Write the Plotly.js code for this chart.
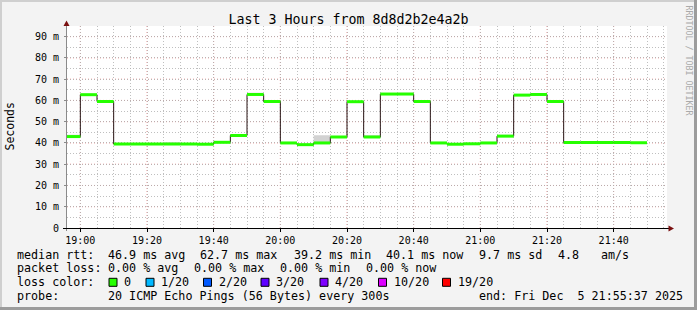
<!DOCTYPE html>
<html><head><meta charset="utf-8">
<script src="https://cdn.plot.ly/plotly-3.0.1.min.js"></script>
<style>html,body{margin:0;padding:0;background:#f3f3f3;} #chart{width:697px;height:310px;}</style>
</head><body><div id="chart"></div>
<script>
// ---------------- data ----------------
const day = '2025-12-05';
const stepTimes = ['18:55','19:00','19:05','19:10','19:15','19:20','19:25','19:30','19:35','19:40',
  '19:45','19:50','19:55','20:00','20:05','20:10','20:15','20:20','20:25','20:30',
  '20:35','20:40','20:45','20:50','20:55','21:00','21:05','21:10','21:15','21:20',
  '21:25','21:30','21:35','21:40','21:45'];
const medianRtt = [43.0,62.7,59.5,39.5,39.5,39.5,39.5,39.5,39.4,40.3,
  43.5,62.8,59.5,40.0,39.2,40.0,42.8,59.4,42.8,63.0,
  63.0,59.5,40.0,39.4,39.6,40.0,43.2,62.5,62.8,59.5,
  40.2,40.2,40.2,40.2,40.1];
const smokeLo = [42.8,62.5,59.3,39.3,39.3,39.3,39.3,39.3,39.2,40.1,
  43.3,62.6,59.3,39.8,38.6,39.8,42.6,59.2,42.6,62.8,
  62.8,59.3,39.8,39.2,39.4,39.8,43.0,62.3,62.6,59.3,
  39.6,40.0,40.0,39.6,39.9];
const smokeHi = [43.9,62.9,59.7,39.7,39.7,39.7,40.3,39.7,39.6,40.5,
  44.0,63.6,59.7,40.2,39.4,43.6,43.0,59.6,43.6,63.2,
  63.6,59.7,40.2,39.6,39.8,40.2,43.8,62.9,63.0,59.7,
  40.4,40.4,40.4,40.4,40.3];
const yTickVals = [0,10,20,30,40,50,60,70,80,90];
const yTickText = ['0','10 m','20 m','30 m','40 m','50 m','60 m','70 m','80 m','90 m'];
const xMajorTimes = ['19:00','19:20','19:40','20:00','20:20','20:40','21:00','21:20','21:40'];
const rttLegend = ['median rtt:','46.9 ms avg','62.7 ms max','39.2 ms min','40.1 ms now','9.7 ms sd','4.8','am/s'];
const lossLegend = ['packet loss:','0.00 % avg','0.00 % max','0.00 % min','0.00 % now'];
const lossLabels = ['0','1/20','2/20','3/20','4/20','10/20','19/20'];
const lossColors = ['#26ff00','#00b8ff','#0059ff','#5e00ff','#7e00ff','#dd00ff','#ff0000'];
const probeLegend = ['probe:','20 ICMP Echo Pings (56 Bytes) every 300s','end: Fri Dec  5 21:55:37 2025'];
const chartTitle = 'Last 3 Hours from 8d8d2b2e4a2b';

// ---------------- layout helpers ----------------
const L = 67, R = 30, T = 26, B = 82, W = 697, H = 310;
const PW = W - L - R, PH = H - T - B;
const px = x => (x - L) / PW;
const py = y => (H - B - y) / PH;
function addMin(hm, m) {
  let [h, mm] = hm.split(':').map(Number);
  let tot = h * 60 + mm + m;
  return String(Math.floor(tot / 60)).padStart(2, '0') + ':' + String(tot % 60).padStart(2, '0');
}
const ts = hm => day + ' ' + hm;
const xStep = stepTimes.map(ts).concat([ts(addMin(stepTimes[stepTimes.length - 1], 5))]);
const ext = a => a.concat([a[a.length - 1]]);
const xRange = [ts('18:56:00'), ts('21:56:00')];
const yRange = [0, 95];

// green horizontal segments
const gx = [], gy = [];
medianRtt.forEach((v, i) => { gx.push(xStep[i], xStep[i + 1], null); gy.push(v, v, null); });

const mono = 'DejaVu Sans Mono, monospace';
const traces = [
  {x: [xStep[1]], y: [null], xaxis: 'x2', yaxis: 'y2', mode: 'lines', hoverinfo: 'skip', showlegend: false},
  {x: xStep, y: ext(smokeLo), mode: 'lines', line: {shape: 'hv', width: 0, color: 'rgba(0,0,0,0)'}, hoverinfo: 'skip', showlegend: false},
  {x: xStep, y: ext(smokeHi), mode: 'lines', line: {shape: 'hv', width: 0, color: 'rgba(0,0,0,0)'}, fill: 'tonexty', fillcolor: '#d2d2d2', hoverinfo: 'skip', showlegend: false},
  {x: xStep, y: ext(medianRtt), mode: 'lines', line: {shape: 'hv', width: 1, color: '#2a1515'}, hoverinfo: 'skip', showlegend: false},
  {x: gx, y: gy, mode: 'lines', line: {width: 3, color: lossColors[0]}, connectgaps: false, hoverinfo: 'skip', showlegend: false}
];

// ---------------- annotations ----------------
const ann = [];
function txt(x, y, s, size, extra) {
  ann.push(Object.assign({xref: 'paper', yref: 'paper', x: px(x), y: py(y), text: s, showarrow: false,
    xanchor: 'left', yanchor: 'middle', borderpad: 0, font: {family: mono, size: size, color: '#000'}}, extra || {}));
}
const legSize = 11.7;
const rttX = [16, 107.6, 199.6, 293.3, 385.8, 478.7, 557.8, 600.9];
rttLegend.forEach((s, i) => txt(rttX[i] - 0.5, 254.7, s, legSize));
const lossX = [16, 107.6, 193.3, 279.1, 365.3];
lossLegend.forEach((s, i) => txt(lossX[i] - 0.5, 268.2, s, legSize));
txt(15.5, 282.3, 'loss color:', legSize);
const boxX = [109, 146, 203.5, 261, 320, 378.5, 442.5];
const shapes = [];
lossLabels.forEach((s, i) => {
  shapes.push({type: 'rect', xref: 'paper', yref: 'paper', x0: px(boxX[i]), x1: px(boxX[i] + 8), y0: py(278.3), y1: py(286.3),
    fillcolor: lossColors[i], line: {color: '#000', width: 1}});
  txt(boxX[i] + 14, 282.3, s, legSize);
});
const probeX = [16, 107.6, 478.7];
probeLegend.forEach((s, i) => txt(probeX[i] - 0.5, 296, s, legSize));
// y axis title
ann.push({xref: 'paper', yref: 'paper', x: px(9.5), y: py(126), text: 'Seconds', textangle: -90, showarrow: false,
  xanchor: 'center', yanchor: 'middle', font: {family: mono, size: 11.5, color: '#000'}});
// rrdtool watermark
ann.push({xref: 'paper', yref: 'paper', x: px(688.5), y: py(60), text: 'RRDTOOL / TOBI OETIKER', textangle: 90, showarrow: false,
  xanchor: 'center', yanchor: 'middle', font: {family: mono, size: 8.3, color: '#aaaaaa'}});

// major (red) grid lines, between the grey minor grid and the data
const majorGrid = 'rgba(235,120,120,0.8)';
const minorGrid = 'rgba(175,175,175,0.8)';
xMajorTimes.forEach(t => shapes.push({type: 'line', xref: 'x', yref: 'paper', x0: ts(t), x1: ts(t), y0: 0, y1: 1,
  line: {color: majorGrid, width: 1, dash: '1px,2px'}, layer: 'between'}));
yTickVals.slice(1).forEach(v => shapes.push({type: 'line', xref: 'paper', yref: 'y', x0: 0, x1: 1, y0: v, y1: v,
  line: {color: majorGrid, width: 1, dash: '1px,2px'}, layer: 'between'}));

// frame, axis lines and arrows
shapes.push(
  {type: 'rect', xref: 'paper', yref: 'paper', x0: px(0), x1: px(697), y0: py(0), y1: py(2), fillcolor: '#cfcfcf', line: {width: 0}, layer: 'above'},
  {type: 'rect', xref: 'paper', yref: 'paper', x0: px(0), x1: px(2), y0: py(0), y1: py(310), fillcolor: '#cfcfcf', line: {width: 0}, layer: 'above'},
  {type: 'rect', xref: 'paper', yref: 'paper', x0: px(694), x1: px(697), y0: py(0), y1: py(310), fillcolor: '#9c9c9c', line: {width: 0}, layer: 'above'},
  {type: 'rect', xref: 'paper', yref: 'paper', x0: px(0), x1: px(697), y0: py(307), y1: py(310), fillcolor: '#9c9c9c', line: {width: 0}, layer: 'above'},
  {type: 'line', xref: 'paper', yref: 'paper', x0: px(66.5), x1: px(66.5), y0: py(231), y1: py(23), line: {color: '#8a8a8a', width: 1}, layer: 'above'},
  {type: 'line', xref: 'paper', yref: 'paper', x0: px(63), x1: px(670), y0: py(228.5), y1: py(228.5), line: {color: '#000', width: 1}, layer: 'above'},
  {type: 'path', xref: 'paper', yref: 'paper', path: `M ${px(63.5)} ${py(26)} L ${px(69.5)} ${py(26)} L ${px(66.5)} ${py(20.5)} Z`, fillcolor: '#7a1010', line: {width: 0}, layer: 'above'},
  {type: 'path', xref: 'paper', yref: 'paper', path: `M ${px(668.5)} ${py(225.5)} L ${px(668.5)} ${py(231.5)} L ${px(674)} ${py(228.5)} Z`, fillcolor: '#7a1010', line: {width: 0}, layer: 'above'}
);

const layout = {
  width: W, height: H,
  margin: {l: L, r: R, t: T, b: B, pad: 0},
  paper_bgcolor: '#f3f3f3', plot_bgcolor: '#ffffff',
  showlegend: false,
  title: {text: chartTitle, font: {family: mono, size: 13.3, color: '#000'}, x: 0.5, xref: 'container', xanchor: 'center',
    y: 1 - 19.5 / H, yref: 'container', yanchor: 'middle'},
  xaxis: {type: 'date', range: xRange, tickformat: '%H:%M', dtick: 1200000, tick0: ts('19:00'),
    showgrid: false, ticks: 'outside', ticklen: 3, tickcolor: '#000', showline: false, zeroline: false,
    tickfont: {family: mono, size: 10, color: '#000'}, fixedrange: true},
  yaxis: {range: yRange, tickvals: yTickVals, ticktext: yTickText,
    showgrid: false, ticks: 'outside', ticklen: 2, tickcolor: '#8a8a8a', showline: false, zeroline: false,
    tickfont: {family: mono, size: 10, color: '#000'}, ticklabelstandoff: 3, fixedrange: true},
  xaxis2: {type: 'date', overlaying: 'x', anchor: 'y', side: 'bottom', range: xRange, dtick: 300000, tick0: ts('19:00'),
    showgrid: true, gridcolor: minorGrid, griddash: '1px,2px', gridwidth: 1,
    showticklabels: false, ticks: '', showline: false, zeroline: false, fixedrange: true},
  yaxis2: {overlaying: 'y', anchor: 'x', side: 'left', range: yRange, dtick: 5, tick0: 0,
    showgrid: true, gridcolor: minorGrid, griddash: '1px,2px', gridwidth: 1,
    showticklabels: false, ticks: '', showline: false, zeroline: false, fixedrange: true},
  annotations: ann,
  shapes: shapes
};
Plotly.newPlot('chart', traces, layout, {displayModeBar: false, staticPlot: true});
</script></body></html>
